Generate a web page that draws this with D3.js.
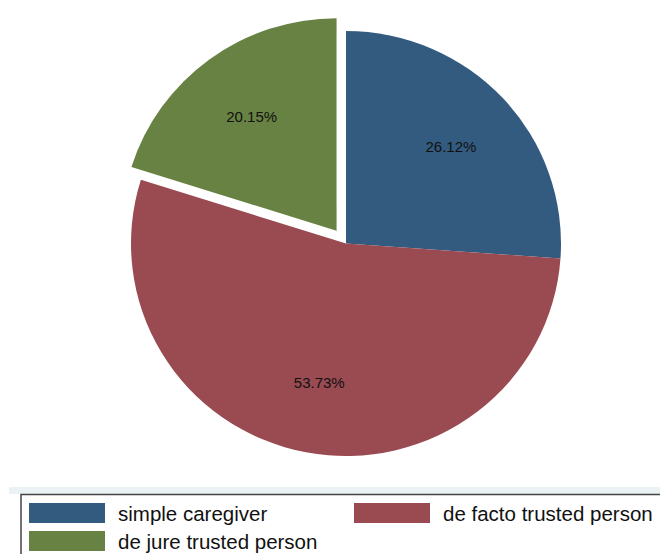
<!DOCTYPE html>
<html>
<head>
<meta charset="utf-8">
<script src="https://cdn.jsdelivr.net/npm/d3@7"></script>
<style>
  body { margin: 0; background: #fff; }
  svg { display: block; }
</style>
</head>
<body>
<div id="chart"></div>
<script>
// slice data, in drawing order (clockwise from 12 o'clock)
var categories = ['simple caregiver', 'de facto trusted person', 'de jure trusted person'];
var shares = [26.12, 53.73, 20.15];
var exploded = ['de jure trusted person'];

var w = 660;
var h = 554;
var cx = 346, cy = 243.5;
var rx = 215, ry = 212.5;

var color = d3.scaleOrdinal()
	.domain(categories)
	.range(['#335a7f', '#9a4a51', '#678243'])

var svg = d3.select('#chart')
	.append('svg')
	.attr('width', w)
	.attr('height', h)

var data = categories.map(function(c, i) { return {name: c, val: shares[i]} })

var pie = d3.pie()
	.sort(null)
	.value(function(d) { return d.val; })

var arc = d3.arc()
	.innerRadius(0)
	.outerRadius(rx)

var labelArc = d3.arc()
	.innerRadius(rx * 0.667)
	.outerRadius(rx * 0.667)

var g = svg.append('g')
	.attr('transform', 'translate(' + cx + ',' + cy + ') scale(1,' + (ry / rx) + ')')

var slices = g.selectAll('.slice')
	.data(pie(data))
	.enter()
	.append('g')
	.attr('class', 'slice')
	.attr('transform', function(d) {
		if (exploded.indexOf(d.data.name) < 0) return null;
		var a = (d.startAngle + d.endAngle) / 2;
		return 'translate(' + (Math.sin(a) * 16) + ',' + (-Math.cos(a) * 16) + ')';
	})

slices.append('path')
	.attr('d', arc)
	.attr('fill', function(d) { return color(d.data.name); })

slices.append('text')
	.attr('transform', function(d) {
		var p = labelArc.centroid(d);
		return 'translate(' + p[0] + ',' + p[1] + ') scale(1,' + (rx / ry) + ')';
	})
	.attr('text-anchor', 'middle')
	.attr('dy', '0.35em')
	.style('font-family', 'Liberation Sans, Arial, sans-serif')
	.style('font-size', '15px')
	.style('fill', '#111')
	.text(function(d) { return d.data.val.toFixed(2) + '%'; })

// legend
var legend = svg.append('g').attr('class', 'legend')

legend.append('rect')
	.attr('x', 9).attr('y', 487)
	.attr('width', w - 9).attr('height', 7)
	.attr('fill', '#eaf2f3')

legend.append('rect')
	.attr('x', 21).attr('y', 494.5)
	.attr('width', w + 10).attr('height', 80)
	.attr('fill', '#fff')
	.attr('stroke', '#444')
	.attr('stroke-width', 1.5)

var cols = [29, 354];
var rows = [503, 531];

var items = legend.selectAll('.item')
	.data(categories)
	.enter()
	.append('g')
	.attr('class', 'item')
	.attr('transform', function(d, i) {
		return 'translate(' + cols[i % 2] + ',' + rows[Math.floor(i / 2)] + ')';
	})

items.append('rect')
	.attr('width', 76)
	.attr('height', 20)
	.attr('fill', function(d) { return color(d); })

items.append('text')
	.attr('x', 89)
	.attr('y', 17.5)
	.style('font-family', 'Liberation Sans, Arial, sans-serif')
	.style('font-size', '20.5px')
	.style('fill', '#111')
	.text(function(d) { return d; })
</script>
</body>
</html>
